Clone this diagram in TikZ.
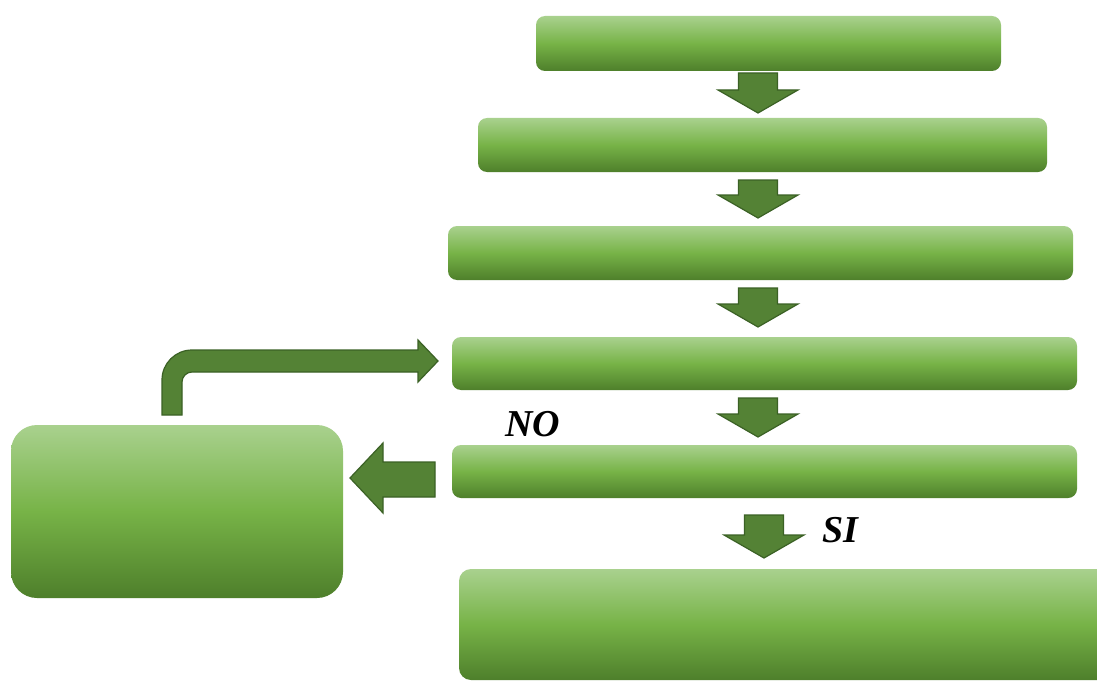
\documentclass[tikz,border=0pt]{standalone}
\usepackage{fontspec}
\setmainfont{Liberation Serif}
\definecolor{gTop}{HTML}{A9D18E}
\definecolor{gMid}{HTML}{77B347}
\definecolor{gBot}{HTML}{4E7F2B}
\definecolor{arrFill}{HTML}{548235}
\definecolor{arrLine}{HTML}{3B6125}
\newcommand{\blkdown}[3]{%
  \draw[blk] (#1-19.5,#2) -- (#1+19.5,#2) -- (#1+19.5,#3-23) -- (#1+40,#3-23) -- (#1,#3) -- (#1-40,#3-23) -- (#1-19.5,#3-23) -- cycle;}
\begin{document}
\begin{tikzpicture}[x=1pt,y=-1pt,
  box/.style={rounded corners=9pt, inner sep=0pt, outer sep=0pt, anchor=north west,
    top color=gTop, bottom color=gBot, middle color=gMid, draw=none},
  blk/.style={fill=arrFill, draw=arrLine, line width=1.2pt, line join=miter},
  lbl/.style={font=\fontsize{38}{44}\selectfont\bfseries\itshape, inner sep=0pt, anchor=base west}]
\useasboundingbox (0,0) rectangle (1097,682);
\fill[white] (0,0) rectangle (1097,682);
\clip (0,0) rectangle (1097,682);
\node[box, minimum width=465, minimum height=55] (b1) at (536,16) {};
\node[box, minimum width=569, minimum height=54] (b2) at (478,118) {};
\node[box, minimum width=625, minimum height=54] (b3) at (448,226) {};
\node[box, minimum width=625, minimum height=53] (b4) at (452,337) {};
\node[box, minimum width=625, minimum height=53] (b5) at (452,445) {};
\node[box, rounded corners=12pt, minimum width=660, minimum height=111] (b6) at (459,569) {};
\node[box, rounded corners=26pt, minimum width=332, minimum height=173] (bl) at (11,425) {};
% down arrows
\blkdown{758}{73}{113}
\blkdown{758}{180}{218}
\blkdown{758}{288}{327}
\blkdown{758}{398}{437}
\blkdown{764}{515}{558}
% left arrow
\draw[blk] (435,462) -- (383,462) -- (383,443) -- (350,478) -- (383,513) -- (383,497) -- (435,497) -- cycle;
% bent arrow
\draw[blk] (162,415) -- (162,380) .. controls (162,363.4) and (175.4,350) .. (192,350)
  -- (418,350) -- (418,340) -- (438,361) -- (418,382) -- (418,372) -- (192,372)
  .. controls (186.5,372) and (182,376.5) .. (182,382) -- (182,415) -- cycle;
\node[lbl] (no) at (505,436) {NO};
\node[lbl] (si) at (822,542) {SI};
\end{tikzpicture}
\end{document}
